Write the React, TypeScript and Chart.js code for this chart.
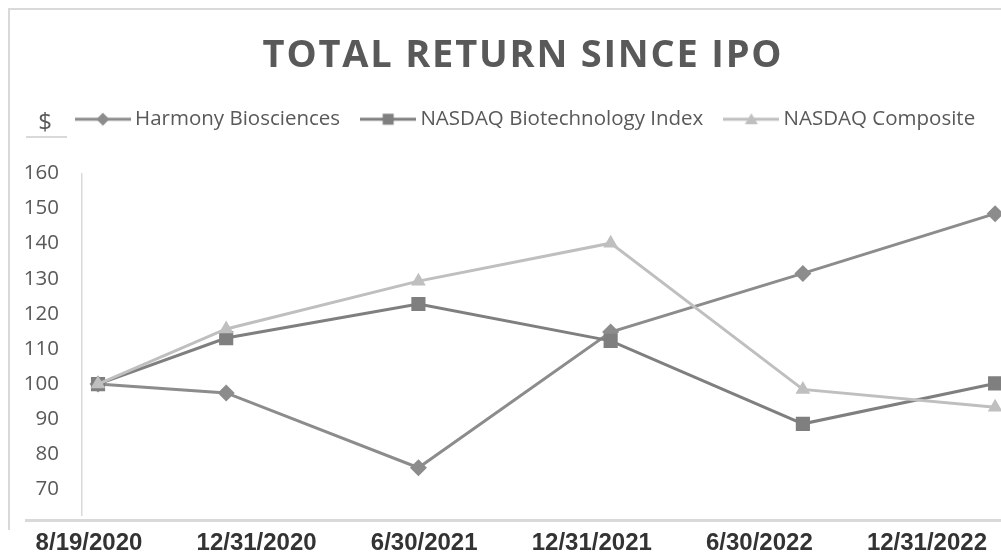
import React, { useEffect, useRef } from 'react';
import { Chart, registerables } from 'chart.js';

Chart.register(...registerables);

// ---------- data ----------
const TITLE = 'TOTAL RETURN SINCE IPO';
const Y_UNIT = '$';
const DATES = ['8/19/2020', '12/31/2020', '6/30/2021', '12/31/2021', '6/30/2022', '12/31/2022'];
const SERIES_NAMES = ['Harmony Biosciences', 'NASDAQ Biotechnology Index', 'NASDAQ Composite'];
const HARMONY = [100, 97.5, 76.2, 114.8, 131.5, 148.5];
const NASDAQ_BIO = [100, 113.1, 122.8, 112.3, 88.7, 100.2];
const NASDAQ_COMP = [100, 115.7, 129.3, 140.1, 98.5, 93.4];
const Y_TICKS = [70, 80, 90, 100, 110, 120, 130, 140, 150, 160];

// ---------- style ----------
const COLORS = ['#8c8c8c', '#7f7f7f', '#bfbfbf'];
const SHAPES = ['rectRot', 'rect', 'triangle'];
const RADII = [8.5, 10, 8.5];
const W = 1056;
const H = 556;

// month-based date axis (like Excel's date axis with base unit "months")
const monthIndex = (d: string) => {
  const [m, , y] = d.split('/').map(Number);
  return y * 12 + (m - 1);
};
const X_MONTHS = DATES.map((d) => monthIndex(d) - monthIndex(DATES[0]));

function makeLegendIcon(color: string, shape: string): HTMLCanvasElement {
  const c = document.createElement('canvas');
  c.width = 56;
  c.height = 20;
  const g = c.getContext('2d')!;
  g.strokeStyle = color;
  g.lineWidth = 3;
  g.beginPath();
  g.moveTo(0, 10);
  g.lineTo(56, 10);
  g.stroke();
  g.fillStyle = color;
  g.beginPath();
  if (shape === 'rectRot') {
    g.moveTo(28, 3.5);
    g.lineTo(34.5, 10);
    g.lineTo(28, 16.5);
    g.lineTo(21.5, 10);
  } else if (shape === 'rect') {
    g.rect(22.5, 4.5, 11, 11);
  } else {
    g.moveTo(28, 4);
    g.lineTo(34.5, 15);
    g.lineTo(21.5, 15);
  }
  g.closePath();
  g.fill();
  return c;
}

const decorPlugin = {
  id: 'decor',
  beforeDatasetsDraw(chart: any) {
    const ctx = chart.ctx as CanvasRenderingContext2D;
    const area = chart.chartArea;
    ctx.save();
    ctx.fillStyle = '#d9d9d9';
    // outer frame (top and left)
    ctx.fillRect(8, 8, chart.width, 2);
    ctx.fillRect(8, 8, 2, 522);
    // vertical axis line
    ctx.fillRect(area.left - 1, 173, 1.5, 343);
    // horizontal axis line
    ctx.fillRect(25, 519, chart.width, 3);
    // underline under the unit label
    ctx.fillRect(26, 136, 41, 2);
    ctx.restore();
  },
  afterDraw(chart: any) {
    const ctx = chart.ctx as CanvasRenderingContext2D;
    ctx.save();
    ctx.fillStyle = '#595959';
    ctx.textAlign = 'center';
    ctx.textBaseline = 'alphabetic';
    ctx.font = 'bold 38px "Open Sans"';
    (ctx as any).letterSpacing = '1.8px';
    ctx.fillText(TITLE, 523, 67);
    (ctx as any).letterSpacing = '0px';
    ctx.font = '24px "Open Sans"';
    ctx.fillText(Y_UNIT, 45, 130);
    ctx.restore();
  },
};

export default function App() {
  const canvasRef = useRef<HTMLCanvasElement | null>(null);

  useEffect(() => {
    const canvas = canvasRef.current;
    if (!canvas) return;
    const icons = COLORS.map((c, i) => makeLegendIcon(c, SHAPES[i]));
    const seriesValues = [HARMONY, NASDAQ_BIO, NASDAQ_COMP];

    const datasets = SERIES_NAMES.map((name, i) => ({
      label: name,
      data: X_MONTHS.map((x, k) => ({ x, y: seriesValues[i][k] })),
      xAxisID: 'x',
      yAxisID: 'y',
      borderColor: COLORS[i],
      backgroundColor: COLORS[i],
      borderWidth: 3,
      pointStyle: SHAPES[i],
      pointRadius: RADII[i],
      pointBackgroundColor: COLORS[i],
      pointBorderColor: COLORS[i],
      pointBorderWidth: 0,
      tension: 0,
      order: 3 - i,
    }));

    const defaultGen = (Chart.defaults as any).plugins.legend.labels.generateLabels;

    const chart = new Chart(canvas, {
      type: 'line',
      data: { datasets: datasets as any },
      plugins: [decorPlugin],
      options: {
        responsive: false,
        animation: false,
        events: [],
        layout: { autoPadding: false, padding: { top: 83, left: 0, right: 0, bottom: 0 } },
        plugins: {
          title: { display: false },
          tooltip: { enabled: false },
          legend: {
            display: true,
            position: 'top',
            labels: {
              usePointStyle: true,
              pointStyleWidth: 44,
              padding: 26,
              color: '#595959',
              font: { family: 'Open Sans', size: 20.5 },
              generateLabels: (ch: any) => {
                const items = defaultGen(ch);
                items.sort((a: any, b: any) => a.datasetIndex - b.datasetIndex);
                return items.map((it: any) => ({ ...it, pointStyle: icons[it.datasetIndex] }));
              },
            },
          },
        },
        scales: {
          x: {
            type: 'linear',
            axis: 'x',
            display: false,
            min: -0.5,
            max: 29.9,
          },
          xl: {
            type: 'linear',
            axis: 'x',
            position: 'bottom',
            min: -0.0418,
            max: 5.77,
            grid: { display: false, drawTicks: false, tickLength: 0 },
            border: { display: false },
            afterBuildTicks: (s: any) => {
              s.ticks = DATES.map((_, i) => ({ value: i }));
            },
            afterFit: (s: any) => {
              s.height = 31.3;
              s.paddingLeft = 0;
              s.paddingRight = 0;
            },
            ticks: {
              autoSkip: false,
              maxRotation: 0,
              padding: 4.5,
              color: '#333333',
              font: { family: 'Liberation Sans', weight: 'bold', size: 24 },
              callback: (v: any) => DATES[v] ?? '',
            },
          },
          y: {
            type: 'linear',
            min: 60,
            max: 169.6,
            grid: { display: false, drawTicks: false, tickLength: 0 },
            border: { display: false },
            afterBuildTicks: (s: any) => {
              s.ticks = Y_TICKS.map((v) => ({ value: v }));
            },
            afterFit: (s: any) => {
              s.width = 82;
              s.paddingTop = 0;
              s.paddingBottom = 0;
            },
            ticks: {
              padding: 23,
              color: '#595959',
              font: { family: 'Open Sans', size: 20.5 },
            },
          },
        } as any,
      },
    });
    return () => chart.destroy();
  }, []);

  return (
    <div
      style={{
        position: 'fixed',
        left: 0,
        top: 0,
        width: 1001,
        height: 556,
        overflow: 'hidden',
        background: '#ffffff',
      }}
    >
      <canvas ref={canvasRef} width={W} height={H} style={{ display: 'block', width: W, height: H }} />
    </div>
  );
}
